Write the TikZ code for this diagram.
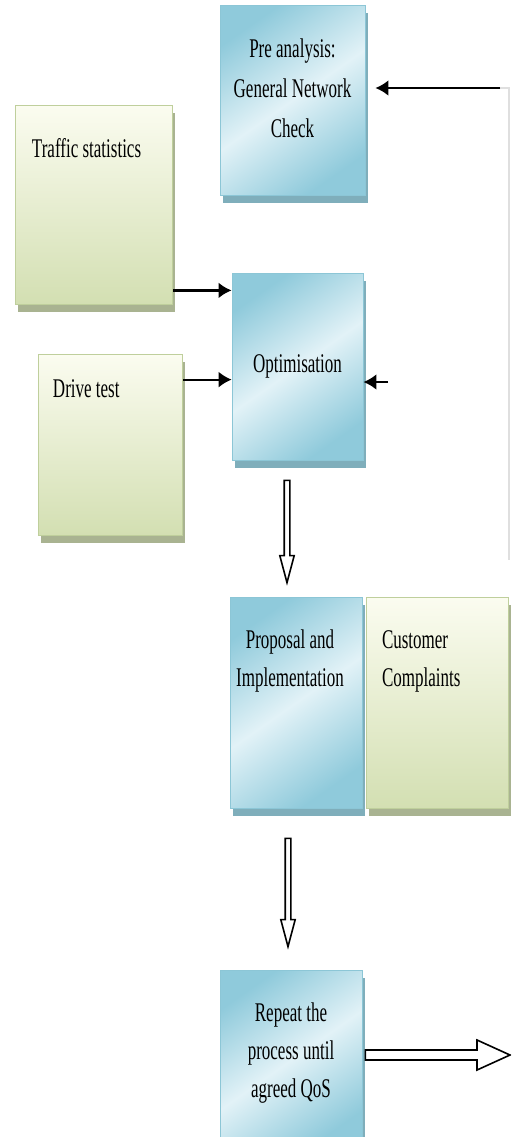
\documentclass[tikz,border=0pt]{standalone}
\usepackage{fontspec}
\setmainfont[FakeStretch=0.63]{Liberation Serif}
\usepackage{xcolor}
\usetikzlibrary{positioning,calc,arrows.meta,shadows}
\definecolor{blueedge}{HTML}{8CC6D6}
\definecolor{bluedark}{HTML}{8FCADB}
\definecolor{bluelight}{HTML}{E2F2F7}
\definecolor{blueshade}{HTML}{7FAEBB}
\definecolor{greenedge}{HTML}{BFCF9C}
\definecolor{greentop}{HTML}{FBFCF0}
\definecolor{greenbot}{HTML}{D3DFB2}
\definecolor{greenshade}{HTML}{A9B391}
\newcommand{\hollowdown}[5]{%
  \draw[hollow] let \p1=($(#1.south)+(#3,#4)$), \p2=($(#2.north)+(#3,-#5)$) in
    (\x1-1.4pt,\y1) -- (\x1+1.4pt,\y1) -- (\x1+1.4pt,\y2+13.5pt) -- (\x1+3.6pt,\y2+13.5pt)
    -- (\x1,\y2) -- (\x1-3.6pt,\y2+13.5pt) -- (\x1-1.4pt,\y2+13.5pt) -- cycle;}
\newcommand{\hollowright}[2]{%
  \draw[hollow] let \p1=($(#1.east)+(3,-5)$), \p2=(#2) in
    (\x1,\y1-2.5pt) -- (\x2-16.5pt,\y1-2.5pt) -- (\x2-16.5pt,\y1-7.5pt) -- (\x2,\y1)
    -- (\x2-16.5pt,\y1+7.5pt) -- (\x2-16.5pt,\y1+2.5pt) -- (\x1,\y1+2.5pt) -- cycle;}

\begin{document}
\begin{tikzpicture}[x=0.5pt, y=-0.5pt,
  bluebox/.style={draw=blueedge, top color=bluedark, bottom color=bluedark, middle color=bluelight, shading angle=35, drop shadow={shadow xshift=1.5pt, shadow yshift=-4pt, fill=blueshade, opacity=1}, inner sep=0},
  greenbox/.style={draw=greenedge, top color=greentop, bottom color=greenbot, drop shadow={shadow xshift=1.5pt, shadow yshift=-4pt, fill=greenshade, opacity=1}, inner sep=0},
  txt/.style={inner sep=0, align=center, font=\fontsize{13.5}{19}\selectfont},
  lefttxt/.style={inner sep=0, align=left, font=\fontsize{13.5}{19}\selectfont},
  arr/.style={-{Latex[length=6.5pt,width=8pt]}, line width=1.3pt},
  hollow/.style={draw, fill=white, line width=0.8pt},
  faint/.style={draw=gray!25, line width=0.6pt}]
\path[use as bounding box, fill=white] (0,0) rectangle (511,1137);
\clip (0,0) rectangle (511,1137);
\node[bluebox, minimum width=72.5pt, minimum height=95pt] (pre) at (292.5,100) {};
\node[greenbox, minimum width=78.5pt, minimum height=99.5pt] (traf) at (93.5,204.5) {};
\node[bluebox, minimum width=65.5pt, minimum height=93.5pt] (opt) at (297.5,366.5) {};
\node[greenbox, minimum width=72pt, minimum height=90.5pt] (drive) at (110,444.5) {};
\node[bluebox, minimum width=66pt, minimum height=105.5pt] (prop) at (296,702.5) {};
\node[greenbox, minimum width=71pt, minimum height=105.5pt] (cust) at (437,702.5) {};
\node[bluebox, minimum width=71pt, minimum height=90pt] (rep) at (291,1060) {};
\node[txt, below=17pt of pre.north] (preT) {Pre analysis:\\[1pt]General Network\\[1pt]Check};
\node[txt, below=41pt of opt.north] (optT) {Optimisation};
\node[txt, below=16.5pt of prop.north, xshift=-3pt] (propT) {Proposal and\\Implementation};
\node[txt, below=16.5pt of rep.north] (repT) {Repeat the\\process until\\agreed QoS};
\node[lefttxt, below right=16.5pt and 8.5pt of traf.north west] (trafT) {Traffic statistics};
\node[lefttxt, below right=13pt and 7.5pt of drive.north west] (driveT) {Drive test};
\node[lefttxt, below right=17pt and 8pt of cust.north west] (custT) {Customer\\Complaints};
\coordinate (fbtop) at (500,88);
\coordinate (fbcorner) at (509,88);
\coordinate (fbend) at (509,560);
\coordinate (fbmid) at (388,382);
\coordinate (qos) at (510,1055);
\coordinate (trafout) at ($(traf.south east)+(1,-14)$);
\coordinate (driveout) at ($(drive.north east)+(1,26)$);
\draw[faint] (fbtop) -- (fbcorner) -- (fbend);
\draw[arr, shorten >=5pt] (fbtop) -- (fbtop -| pre.east);
\draw[arr] (trafout) -- (trafout -| opt.west);
\draw[arr, line width=1pt] (driveout) -- (driveout -| opt.west);
\draw[arr] (fbmid) -- (fbmid -| opt.east);
\hollowdown{opt}{prop}{-10.5}{20}{14}
\hollowdown{prop}{rep}{-8}{30}{23}
\hollowright{rep}{qos}
\end{tikzpicture}
\end{document}
